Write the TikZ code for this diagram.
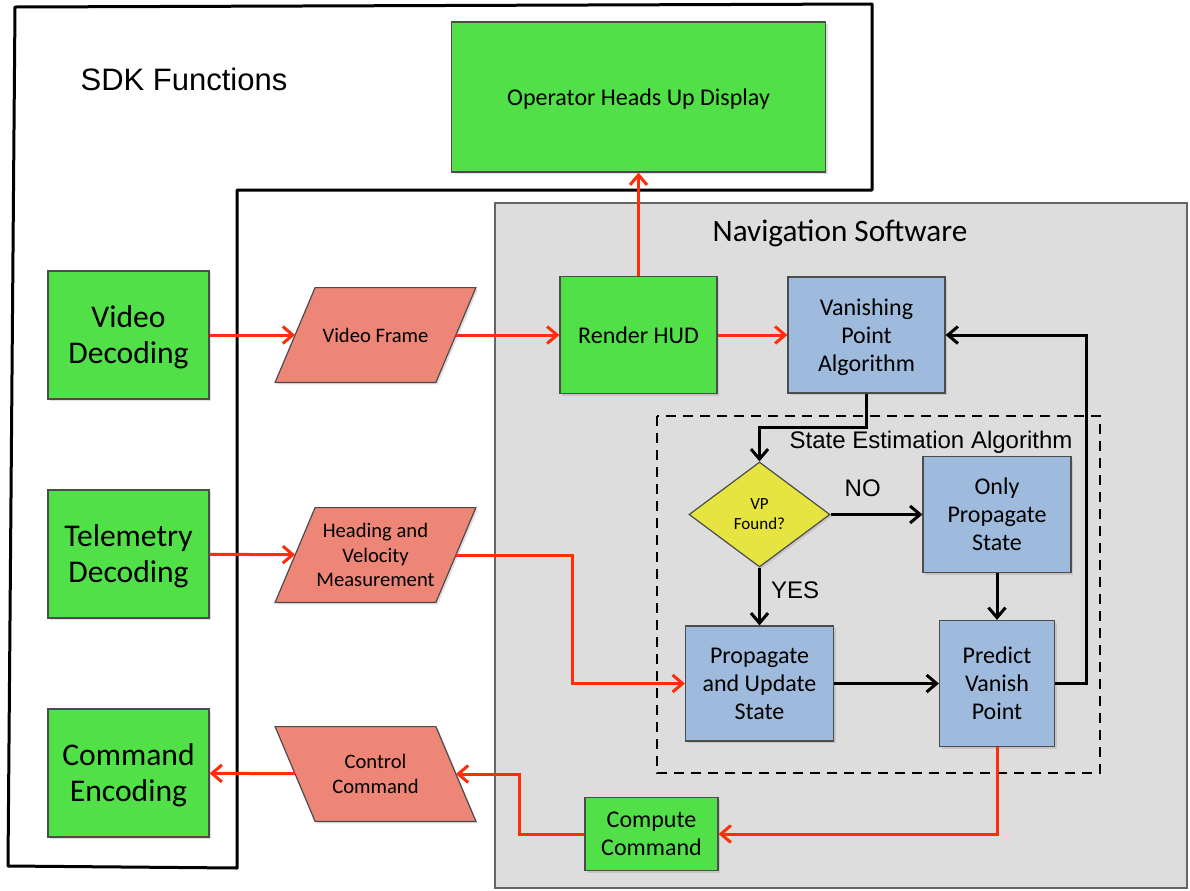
\documentclass[tikz,border=0pt]{standalone}
\usepackage{fontspec}
\setmainfont{Carlito}
\newfontfamily\helv{Liberation Sans}
\usetikzlibrary{arrows.meta,shapes.geometric,shadows,backgrounds}
\definecolor{boxgreen}{RGB}{82,224,72}
\definecolor{boxblue}{RGB}{158,187,221}
\definecolor{datared}{RGB}{237,134,118}
\definecolor{testyellow}{RGB}{230,228,64}
\definecolor{navgray}{RGB}{221,221,221}
\definecolor{flowred}{RGB}{255,45,10}
\tikzset{
  box/.style={draw=black!70, line width=0.6pt, align=center, inner sep=1pt, text depth=0pt,
    drop shadow={opacity=0.25, shadow xshift=1pt, shadow yshift=-1pt}},
  sdkbox/.style={box, fill=boxgreen, minimum width=80.5pt, minimum height=64pt,
    font=\fontsize{15.8}{18}\selectfont},
  greenbox/.style={box, fill=boxgreen, font=\fontsize{12}{14}\selectfont},
  navbox/.style={box, fill=boxblue, font=\fontsize{12}{14}\selectfont},
  databox/.style={align=center, inner sep=1pt, minimum width=80pt, minimum height=47pt,
    font=\fontsize{10.3}{12.3}\selectfont},
  databody/.style={draw=black!70, line width=0.6pt, fill=datared,
    drop shadow={opacity=0.25, shadow xshift=1pt, shadow yshift=-1pt}},
  testbox/.style={box, fill=testyellow, diamond, aspect=1.34, minimum width=70.5pt,
    minimum height=52.5pt, font=\fontsize{8.5}{10}\selectfont},
  tip/.style={-{Straight Barb[length=5pt,width=8.5pt]}, line width=1.5pt},
  redarrow/.style={tip, draw=flowred},
  blackarrow/.style={tip, draw=black},
  answer/.style={font=\helv\fontsize{12}{14}\selectfont, inner sep=0pt}
}
\begin{document}
\begin{tikzpicture}[x=0.5pt,y=-0.5pt]
      \useasboundingbox (0,0) rectangle (1190,890);
      \filldraw[fill=navgray, draw=black!60, line width=0.6pt] (495,203) rectangle (1187,888);
      \draw[line width=1.5pt, line join=round]
        (15,7) -- (872,4) -- (872,190) -- (237,190) -- (237,868) -- (8,866) -- cycle;
      \draw[line width=1.3pt, dash pattern=on 5pt off 3.5pt] (657,416) rectangle (1100,773);
      \node[font=\helv\fontsize{15.5}{18}\selectfont] (sdk) at (184,79) {SDK Functions};
      \node[font=\fontsize{15.6}{18}\selectfont] (nav) at (840,233) {Navigation Software};
      \node[font=\helv\fontsize{12}{14}\selectfont] (sea) at (931,442) {State Estimation Algorithm};
      \node[greenbox, minimum width=187pt, minimum height=75pt] (ohud) at (638.5,97) {Operator Heads Up Display};
      \node[sdkbox] (vdec) at (128.5,335) {Video\\Decoding};
      \node[sdkbox] (tdec) at (128.5,554) {Telemetry\\Decoding};
      \node[sdkbox] (cenc) at (128.5,773) {Command\\Encoding};
      \node[databox] (vfr) at (375.5,335) {Video Frame};
      \node[databox] (hvm) at (375.5,555) {Heading and\\Velocity\\Measurement};
      \node[databox] (ctl) at (375.5,774) {Control\\Command};
      \begin{scope}[on background layer]
        \foreach \n/\s in {vfr/1, hvm/1, ctl/-1}
          \filldraw[databody] ([xshift={-10pt*\s}]\n.south west) -- ([xshift={10pt*\s}]\n.north west)
            -- ([xshift={10pt*\s}]\n.north east) -- ([xshift={-10pt*\s}]\n.south east) -- cycle;
      \end{scope}
      \node[greenbox, minimum width=78.5pt, minimum height=58.5pt] (hud) at (638.5,335) {Render HUD};
      \node[navbox, minimum width=78.5pt, minimum height=58pt] (vpa) at (866.5,335) {Vanishing\\Point\\Algorithm};
      \node[testbox] (vpf) at (759.5,514.5) {VP\\Found?};
      \node[navbox, minimum width=74pt, minimum height=58pt] (ops) at (997,514.5) {Only\\Propagate\\State};
      \node[navbox, minimum width=74pt, minimum height=57.5pt] (pus) at (759.5,683.5) {Propagate\\and Update\\State};
      \node[navbox, minimum width=57.5pt, minimum height=63pt] (pvp) at (997,683.5) {Predict\\Vanish\\Point};
      \node[greenbox, minimum width=66.5pt, minimum height=36.5pt] (cc) at (651.5,834) {Compute\\Command};
      \begin{scope}[redarrow]
        \draw (vdec) to (vfr);
        \draw (vfr) to (hud);
        \draw (hud) to (vpa);
        \draw (hud) to (ohud);
        \draw (tdec) to (hvm);
        \draw (hvm.east) -- ++(117,0) |- (pus.west);
        \draw (pvp.south) |- (cc.east);
        \draw (cc.west) -- ++(-65,0) |- (ctl.east);
        \draw (ctl) to (cenc);
      \end{scope}
      \begin{scope}[blackarrow]
        \draw (vpa.south) -- ++(0,34) -| (vpf.north);
        \draw (vpf) to node[answer, pos=0.35, above=8pt] (no) {NO} (ops);
        \draw (vpf) to node[answer, pos=0.4, right=5pt] (yes) {YES} (pus);
        \draw (ops) to (pvp);
        \draw (pus) to (pvp);
        \draw (pvp.east) -- ++(31,0) |- (vpa.east);
      \end{scope}
    \end{tikzpicture}
\end{document}
